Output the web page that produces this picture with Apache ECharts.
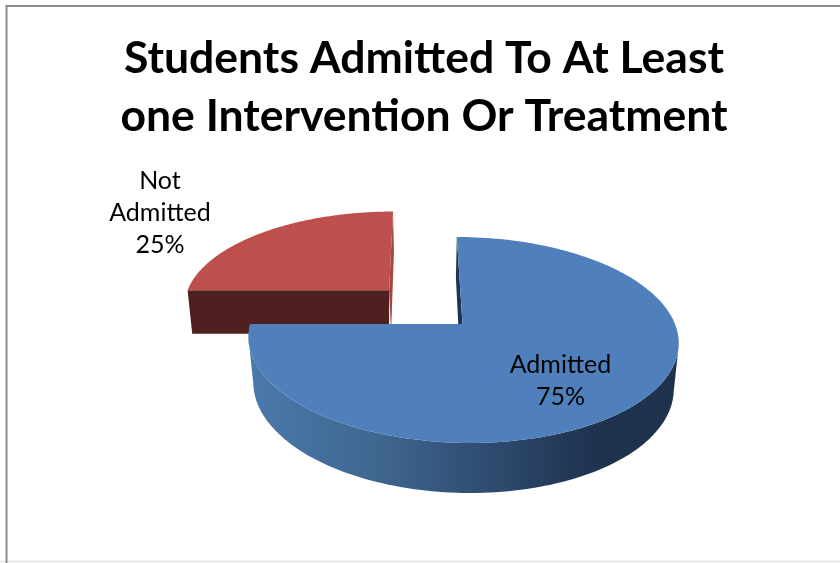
<!DOCTYPE html>
<html>
<head>
<meta charset="utf-8">
<style>html,body{margin:0;padding:0;background:#fff}#chart{width:840px;height:563px}</style>
<script src="https://cdn.jsdelivr.net/npm/echarts@6/dist/echarts.min.js"></script>
</head>
<body>
<div id="chart"></div>
<script>
// ---- data ----
const categories = ['Admitted', 'Not Admitted'];
const values = [75, 25];
const explode = [0, 0.5];            // slice pull-out, as a share of the radius
const titleLines = ['Students Admitted To At Least', 'one Intervention Or Treatment'];

// ---- styling ----
const topColors = ['#4F80BB', '#BD504D'];
const wallColors = ['#1F344E', '#4E201F'];
const sideStops = [[0, '#4A79AC'], [0.3, '#3F678F'], [0.55, '#2F4C71'], [0.8, '#1F334F'], [1, '#1E324B']];
const font = 'Lato, Carlito, sans-serif';

// ---- 3D projection settings of the pie ----
const P = { ox: 462.5, y0: 324, R: 212.5, H: 100.5, k: 0.155, vx: 420, D: 45, taper: 0.977 };
const labelTweak = [{ r: 0.65, dx: -10.5, dy: 7 }, { r: 1.0, dx: -103, dy: -20 }];
const total = values.reduce((a, b) => a + b, 0);

function proj(X, Y) {                // X in px, Y in radii; gives top-surface screen point
  const d = 1 + P.k * Y;
  return [P.vx + (X - P.vx) / d, P.y0 - P.H * Y / d, d];
}
function slice(i) {
  let before = 0;
  for (let j = 0; j < i; j++) before += values[j];
  const a0 = before / total * 2 * Math.PI, a1 = (before + values[i]) / total * 2 * Math.PI;
  const mid = (a0 + a1) / 2;
  const ax = P.ox + explode[i] * Math.sin(mid) * P.R, ay = explode[i] * Math.cos(mid);
  const sx0 = proj(ax, ay)[0];
  const top = (u, v) => { const p = proj(ax + u * P.R, ay + v); return [p[0], p[1]]; };
  const bot = (u, v) => {
    const p = proj(ax + u * P.R, ay + v);
    return [sx0 + (p[0] - sx0) * P.taper, p[1] + P.D / Math.pow(p[2], 0.63)];
  };
  return { a0, a1, mid, ax, ay, top, bot };
}
function renderItem(params) {
  const i = params.dataIndex, s = slice(i), kids = [];
  const base = i === 0 ? 100 : 10;   // the unexploded slice sits in front
  const camX = (P.vx - s.ax) / P.R, camY = -1 / P.k - s.ay;
  const N = 180, arc = [];
  for (let n = 0; n <= N; n++) arc.push(s.a0 + (s.a1 - s.a0) * n / N);
  // flat cut walls (only when they face the viewer)
  [[s.a0, -1], [s.a1, 1]].forEach(([a, sign]) => {
    const nx = sign * Math.cos(a), ny = -sign * Math.sin(a);
    if (nx * camX + ny * camY > 0) {
      const u = Math.sin(a), v = Math.cos(a);
      const shift = nx * 2;
      const pb = s.bot(u, v), cb = s.bot(0, 0);
      kids.push({
        type: 'polygon', z2: base,
        shape: { points: [s.top(0, 0), s.top(u, v), [pb[0] + shift * 0.5, pb[1]], [cb[0] + shift, cb[1]]] },
        style: { fill: Math.abs(v) < 0.01 ? wallColors[i] : (i === 0 ? wallColors[0] : '#A64543') }
      });
    }
  });
  // curved outer side
  const vis = arc.filter(a => {
    const u = Math.sin(a), v = Math.cos(a);
    return u * (camX - u) + v * (camY - v) > 0;
  });
  if (vis.length > 1) {
    const upper = vis.map(a => s.top(Math.sin(a), Math.cos(a)));
    const lower = vis.map(a => s.bot(Math.sin(a), Math.cos(a))).reverse();
    kids.push({
      type: 'polygon', z2: base + 1,
      shape: { points: upper.concat(lower) },
      style: {
        fill: new echarts.graphic.LinearGradient(0, 0, 1, 0,
          sideStops.map(st => ({ offset: st[0], color: st[1] })))
      }
    });
  }
  // top face
  kids.push({
    type: 'polygon', z2: base + 2,
    shape: { points: [s.top(0, 0)].concat(arc.map(a => s.top(Math.sin(a), Math.cos(a)))) },
    style: { fill: topColors[i] }
  });
  // label
  const t = labelTweak[i];
  const lp = s.top(Math.sin(s.mid) * t.r, Math.cos(s.mid) * t.r);
  kids.push({
    type: 'text', z2: 300,
    style: {
      text: categories[i].replace(' ', '\n') + '\n' + Math.round(values[i] / total * 100) + '%',
      x: lp[0] + t.dx, y: lp[1] + t.dy, align: 'center', verticalAlign: 'middle',
      font: '400 25px ' + font, lineHeight: 32, fill: '#000'
    }
  });
  return { type: 'group', children: kids };
}

const chart = echarts.init(document.getElementById('chart'), null, { renderer: 'canvas' });
chart.setOption({
  animation: false,
  backgroundColor: '#fff',
  title: {
    text: titleLines.join('\n'),
    left: 419, top: 25, textAlign: 'center',
    textStyle: { fontFamily: font, fontWeight: 700, fontSize: 44.5, lineHeight: 58, color: '#000' }
  },
  graphic: [
    { type: 'line', shape: { x1: 0, y1: 561.5, x2: 840, y2: 561.5 }, style: { stroke: '#E4E4E4', lineWidth: 1.5 } },
    { type: 'line', shape: { x1: 6, y1: 6, x2: 840, y2: 6 }, style: { stroke: '#8C8C8C', lineWidth: 2 } },
    { type: 'line', shape: { x1: 6.5, y1: 5, x2: 6.5, y2: 563 }, style: { stroke: '#8C8C8C', lineWidth: 2 } }
  ],
  series: [{
    type: 'custom',
    coordinateSystem: 'none',
    renderItem: renderItem,
    data: categories.map((c, i) => ({ name: c, value: values[i] })),
    silent: true
  }]
});
</script>
</body>
</html>
